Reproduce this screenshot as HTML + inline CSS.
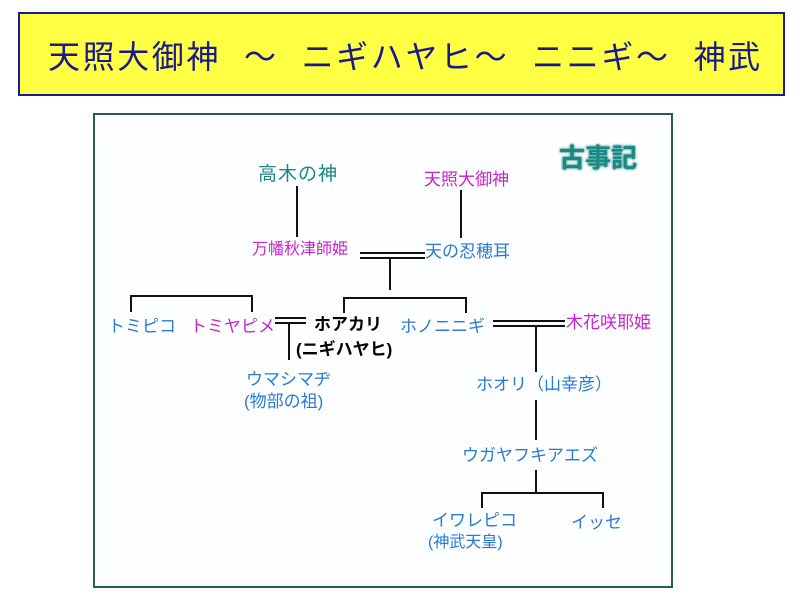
<!DOCTYPE html>
<html><head><meta charset="utf-8"><style>
body{margin:0;width:800px;height:600px;background:#fff;position:relative;overflow:hidden;font-family:"Liberation Sans","Noto Sans CJK JP",sans-serif;}
#title{position:absolute;left:18px;top:12px;width:763px;height:80px;background:#ffff44;border:2px solid #1a1a9a;}
#title span{position:absolute;left:28px;top:18px;font-size:32px;color:#1a1a8a;white-space:pre;letter-spacing:2.6px;}
#box{position:absolute;left:93px;top:113px;width:576px;height:471px;border:2px solid #2a5a5a;background:#fdfeff;}
.t{position:absolute;font-size:17px;white-space:nowrap;line-height:20px;}
.tl{color:#1a8a80}.m{color:#cc22cc}.b{color:#2a7ad0}.k{color:#000;font-weight:bold}
.l{position:absolute;background:#111;}
</style></head><body>
<div id="title"><span>天照大御神  ～  ニギハヤヒ～  ニニギ～  神武</span></div>
<div id="box"></div>
<div class="t" style="left:559px;top:143px;font-size:26px;line-height:30px;color:#1a8a80;font-weight:bold;text-shadow:0 0 3px #7cc,0 0 2px #044">古事記</div>
<div class="t tl" style="left:258px;top:165px;font-size:19px;letter-spacing:1px">高木の神</div>
<div class="t m" style="left:424px;top:170px;">天照大御神</div>
<div class="l" style="left:296px;top:186px;width:2px;height:51px"></div>
<div class="l" style="left:460px;top:190px;width:2px;height:48px"></div>
<div class="t m" style="left:252px;top:240px;font-size:16px">万幡秋津師姫</div>
<div class="t b" style="left:425px;top:242px;">天の忍穂耳</div>
<div class="l" style="left:360px;top:252px;width:65px;height:2px"></div>
<div class="l" style="left:360px;top:257px;width:65px;height:2px"></div>
<div class="l" style="left:389px;top:259px;width:2px;height:31px"></div>
<div class="l" style="left:343px;top:297px;width:124px;height:2px"></div>
<div class="l" style="left:343px;top:297px;width:2px;height:16px"></div>
<div class="l" style="left:465px;top:297px;width:2px;height:16px"></div>
<div class="l" style="left:130px;top:295px;width:123px;height:2px"></div>
<div class="l" style="left:130px;top:295px;width:2px;height:17px"></div>
<div class="l" style="left:251px;top:295px;width:2px;height:17px"></div>
<div class="t b" style="left:108px;top:317px;">トミピコ</div>
<div class="t m" style="left:190px;top:317px;">トミヤピメ</div>
<div class="l" style="left:275px;top:317px;width:31px;height:2px"></div>
<div class="l" style="left:275px;top:322px;width:31px;height:2px"></div>
<div class="l" style="left:288px;top:323px;width:2px;height:37px"></div>
<div class="t k" style="left:314px;top:315px;">ホアカリ</div>
<div class="t k" style="left:296px;top:340px;">(ニギハヤヒ)</div>
<div class="t b" style="left:400px;top:317px;">ホノニニギ</div>
<div class="l" style="left:493px;top:320px;width:72px;height:2px"></div>
<div class="l" style="left:493px;top:325px;width:72px;height:2px"></div>
<div class="t m" style="left:566px;top:313px;">木花咲耶姫</div>
<div class="l" style="left:535px;top:327px;width:2px;height:45px"></div>
<div class="t b" style="left:246px;top:370px;">ウマシマヂ</div>
<div class="t b" style="left:244px;top:392px;">(物部の祖)</div>
<div class="t b" style="left:476px;top:375px;">ホオリ（山幸彦）</div>
<div class="l" style="left:535px;top:400px;width:2px;height:40px"></div>
<div class="t b" style="left:462px;top:446px;">ウガヤフキアエズ</div>
<div class="l" style="left:535px;top:470px;width:2px;height:23px"></div>
<div class="l" style="left:481px;top:492px;width:123px;height:2px"></div>
<div class="l" style="left:481px;top:492px;width:2px;height:16px"></div>
<div class="l" style="left:602px;top:492px;width:2px;height:16px"></div>
<div class="t b" style="left:432px;top:511px;">イワレピコ</div>
<div class="t b" style="left:428px;top:533px;font-size:16px">(神武天皇)</div>
<div class="t b" style="left:571px;top:513px;">イッセ</div>
</body></html>
